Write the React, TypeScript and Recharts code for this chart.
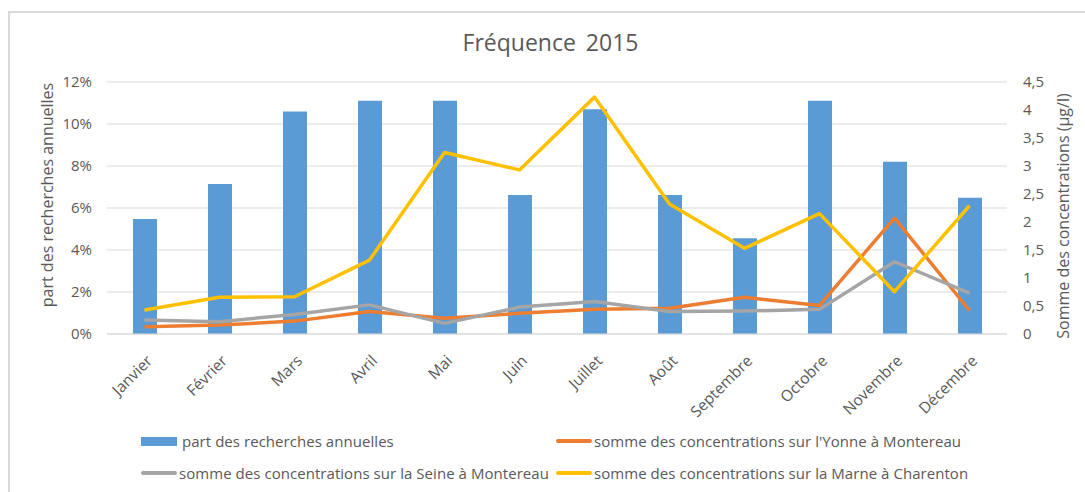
import React from "react";
import {
  ComposedChart,
  Bar,
  Line,
  XAxis,
  YAxis,
  CartesianGrid,
} from "recharts";

// Fréquence 2015 : part des recherches (barres) et sommes des concentrations (courbes)
const months = ["Janvier", "Février", "Mars", "Avril", "Mai", "Juin", "Juillet", "Août", "Septembre", "Octobre", "Novembre", "Décembre"];
const partRecherches = [5.48, 7.14, 10.59, 11.11, 11.11, 6.62, 10.7, 6.62, 4.56, 11.11, 8.2, 6.49];
const yonne = [0.13, 0.16, 0.23, 0.4, 0.28, 0.37, 0.44, 0.46, 0.655, 0.51, 2.07, 0.42];
const seine = [0.25, 0.22, 0.35, 0.52, 0.19, 0.48, 0.58, 0.4, 0.41, 0.44, 1.29, 0.73];
const marne = [0.43, 0.655, 0.666, 1.32, 3.24, 2.93, 4.23, 2.32, 1.53, 2.15, 0.755, 2.29];

const leftTicks = [0, 2, 4, 6, 8, 10, 12];
const rightTicks = [0, 0.5, 1, 1.5, 2, 2.5, 3, 3.5, 4, 4.5];

const seriesNames = {
  part: "part des recherches annuelles",
  yonne: "somme des concentrations sur l'Yonne à Montereau",
  seine: "somme des concentrations sur la Seine à Montereau",
  marne: "somme des concentrations sur la Marne à Charenton",
};

const COLORS = { part: "#5B9BD5", yonne: "#ED7D31", seine: "#A5A5A5", marne: "#FFC000" };
const TEXT = "#595959";
const GRID = "#D9D9D9";
const FONT = "'Open Sans', 'Noto Sans', sans-serif";

const data = months.map((m, i) => ({
  month: m,
  part: partRecherches[i],
  yonne: yonne[i],
  seine: seine[i],
  marne: marne[i],
}));

const MonthTick = ({ x, y, payload }: any) => (
  <g transform={`translate(${x + 5},${y + 16})`}>
    <text transform="rotate(-45)" textAnchor="end" dy="0.35em" fontSize={15.5} fill={TEXT} fontFamily={FONT}>
      {payload.value}
    </text>
  </g>
);

const legendItems = [
  { key: "part", kind: "bar" },
  { key: "yonne", kind: "line" },
  { key: "seine", kind: "line" },
  { key: "marne", kind: "line" },
] as const;

export default function App() {
  return (
    <div style={{ position: "absolute", left: 0, top: 0, width: 1085, height: 492, background: "#fff", overflow: "hidden", fontFamily: FONT }}>
      <div style={{ position: "absolute", left: 8, top: 11, right: -4, bottom: -4, borderLeft: `2px solid ${GRID}`, borderTop: `2px solid ${GRID}` }} />
      <div style={{ position: "absolute", left: 8, width: 1085, top: 31, fontSize: 23, lineHeight: "23px", textAlign: "center", color: TEXT, wordSpacing: 4 }}>
        Fréquence 2015
      </div>

      <ComposedChart
        width={1085}
        height={492}
        data={data}
        margin={{ top: 82, right: 0, bottom: 58, left: 0 }}
        style={{ position: "absolute", left: 0, top: 0 }}
      >
        <CartesianGrid yAxisId="left" vertical={false} stroke={GRID} strokeWidth={1} />
        <XAxis
          dataKey="month"
          interval={0}
          height={100}
          tickLine={false}
          axisLine={{ stroke: GRID }}
          tick={<MonthTick />}
        />
        <YAxis
          yAxisId="left"
          width={107}
          domain={[0, 12]}
          ticks={leftTicks}
          tickFormatter={(v) => `${v}%`}
          axisLine={false}
          tickLine={false}
          tickSize={0}
          tickMargin={15}
          tick={{ fontSize: 15, fill: TEXT, fontFamily: FONT }}
          label={{
            content: ({ viewBox }: any) => {
              const cx = viewBox.x + 47;
              const cy = viewBox.y + viewBox.height / 2 - 13;
              return (
                <text x={cx} y={cy} transform={`rotate(-90,${cx},${cy})`} textAnchor="middle" dominantBaseline="central" fontSize={16} fill={TEXT} fontFamily={FONT}>
                  {seriesNames.part}
                </text>
              );
            },
          }}
        />
        <YAxis
          yAxisId="right"
          orientation="right"
          width={78}
          domain={[0, 4.5]}
          ticks={rightTicks}
          tickFormatter={(v) => `${v}`.replace(".", ",")}
          axisLine={false}
          tickLine={false}
          tickSize={0}
          tickMargin={16}
          tick={{ fontSize: 15, fill: TEXT, fontFamily: FONT, textAnchor: "start" }}
          label={{
            content: ({ viewBox }: any) => {
              const cx = viewBox.x + 56;
              const cy = viewBox.y + viewBox.height / 2 + 8;
              return (
                <text x={cx} y={cy} transform={`rotate(-90,${cx},${cy})`} textAnchor="middle" dominantBaseline="central" fontSize={16} fill={TEXT} fontFamily={FONT}>
                  Somme des concentrations (µg/l)
                </text>
              );
            },
          }}
        />
        <Bar yAxisId="left" dataKey="part" fill={COLORS.part} barSize={24} isAnimationActive={false} />
        <Line yAxisId="right" dataKey="yonne" stroke={COLORS.yonne} strokeWidth={3.5} dot={false} strokeLinejoin="round" isAnimationActive={false} />
        <Line yAxisId="right" dataKey="seine" stroke={COLORS.seine} strokeWidth={3.5} dot={false} strokeLinejoin="round" isAnimationActive={false} />
        <Line yAxisId="right" dataKey="marne" stroke={COLORS.marne} strokeWidth={3.5} dot={false} strokeLinejoin="round" isAnimationActive={false} />
      </ComposedChart>

      <div
        style={{
          position: "absolute",
          left: 141,
          top: 428,
          display: "grid",
          gridTemplateColumns: "415px 480px",
          rowGap: 6,
          fontSize: 15,
          letterSpacing: 0.05,
          color: TEXT,
        }}
      >
        {legendItems.map((it) => (
          <div key={it.key} style={{ display: "flex", alignItems: "center", height: 26, whiteSpace: "nowrap" }}>
            {it.kind === "bar" ? (
              <span style={{ display: "inline-block", width: 36, height: 9, background: COLORS[it.key], marginRight: 5 }} />
            ) : (
              <span style={{ display: "inline-block", width: 36, height: 3.5, background: COLORS[it.key], marginRight: 2, borderRadius: 2 }} />
            )}
            <span>{seriesNames[it.key]}</span>
          </div>
        ))}
      </div>
    </div>
  );
}
